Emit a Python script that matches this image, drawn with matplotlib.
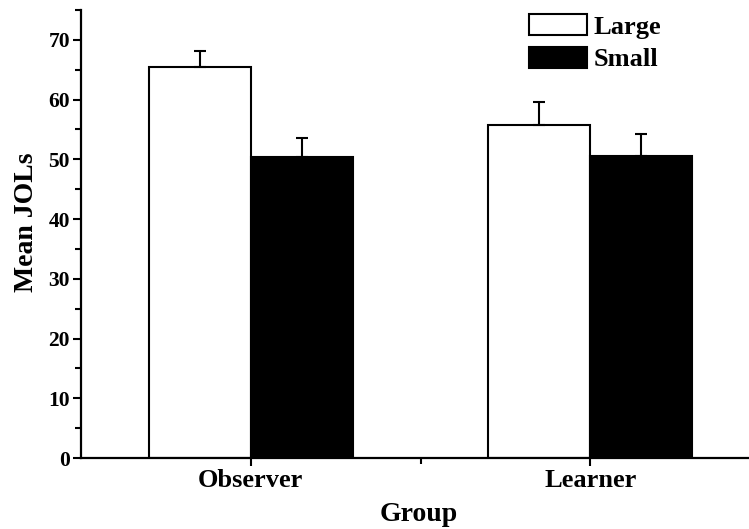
import numpy as np
import matplotlib
matplotlib.use('Agg')
import matplotlib.pyplot as plt
from matplotlib.ticker import MultipleLocator, FixedLocator

groups = ['Observer', 'Learner']
large = [65.5, 55.7]
small = [50.4, 50.6]
large_err = [2.7, 3.9]
small_err = [3.2, 3.7]

plt.rcParams['font.family'] = ['Liberation Serif', 'DejaVu Serif']
plt.rcParams['font.weight'] = 'bold'

fig = plt.figure(figsize=(7.49, 5.29), dpi=100)
ax = fig.add_axes([81/749, 71/529, (760-81)/749, 448/529])

x = np.arange(1, len(groups) + 1)
w = 0.3
ax.bar(x - w/2, large, w, color='white', edgecolor='black', linewidth=1.5,
       yerr=[np.zeros(2), large_err], capsize=4,
       error_kw=dict(elinewidth=1.5, capthick=1.5, ecolor='black'), label='Large')
ax.bar(x + w/2, small, w, color='black', edgecolor='black', linewidth=1.5,
       yerr=[np.zeros(2), small_err], capsize=4,
       error_kw=dict(elinewidth=1.5, capthick=1.5, ecolor='black'), label='Small')

ax.set_xlim(0.5, 2.5)
ax.set_ylim(0, 75)
ax.set_xticks(x)
ax.set_xticklabels(groups, fontsize=19, fontweight='bold')
ax.xaxis.set_minor_locator(FixedLocator([1.5]))
ax.yaxis.set_major_locator(MultipleLocator(10))
ax.yaxis.set_minor_locator(MultipleLocator(5))
for lab in ax.get_yticklabels():
    lab.set_fontsize(15.5)
    lab.set_fontweight('bold')

ax.spines['top'].set_visible(False)
ax.spines['right'].set_visible(False)
ax.spines['left'].set_linewidth(1.6)
ax.spines['bottom'].set_linewidth(1.6)
ax.tick_params(axis='both', which='major', direction='out', length=6, width=1.5, pad=2)
ax.tick_params(axis='both', which='minor', direction='out', length=4, width=1.5)

ax.set_ylabel('Mean JOLs', fontsize=20, fontweight='bold')
ax.yaxis.set_label_coords(-42/679, (458-222)/448)
ax.set_xlabel('Group', fontsize=20, fontweight='bold')
ax.xaxis.set_label_coords((419-81)/679, -44/448)

leg = ax.legend(loc='upper left', bbox_to_anchor=(529/749, 1 - 14/529),
                bbox_transform=fig.transFigure, frameon=False, fontsize=19,
                handlelength=2.2, handleheight=0.85, handletextpad=0.25,
                labelspacing=0.3, borderpad=0, borderaxespad=0)
for t in leg.get_texts():
    t.set_fontweight('bold')

fig.savefig('out.png', dpi=100)
